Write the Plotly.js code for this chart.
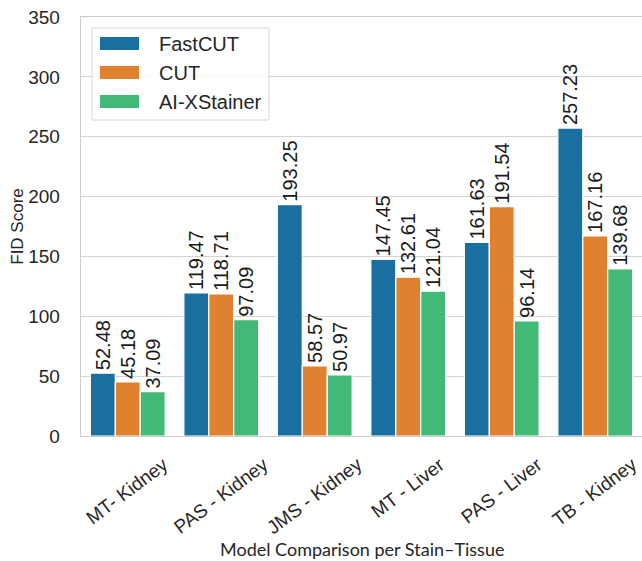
<!DOCTYPE html>
<html>
<head>
<meta charset="utf-8">
<script src="https://cdn.plot.ly/plotly-3.0.1.min.js"></script>
<style>html,body{margin:0;padding:0;background:#fff;}#chart{width:642px;height:561px;}</style>
</head>
<body>
<div id="chart"></div>
<script>
const categories = ["MT- Kidney", "PAS - Kidney", "JMS - Kidney", "MT - Liver", "PAS - Liver", "TB - Kidney"];
const seriesNames = ["FastCUT", "CUT", "AI-XStainer"];
const fastcut = [52.48, 119.47, 193.25, 147.45, 161.63, 257.23];
const cut = [45.18, 118.71, 58.57, 132.61, 191.54, 167.16];
const aixstainer = [37.09, 97.09, 50.97, 121.04, 96.14, 139.68];
const yTicks = [0, 50, 100, 150, 200, 250, 300, 350];
const colors = ["#1a6fa1", "#e08031", "#43b978"];
const seriesValues = [fastcut, cut, aixstainer];

const FONT = "Liberation Sans, Arial, sans-serif";

const traces = seriesValues.map((vals, i) => ({
  type: "bar",
  name: seriesNames[i],
  x: categories,
  y: vals,
  marker: { color: colors[i], line: { color: "#ffffff", width: 1.2 } },
  text: vals.map(v => v.toFixed(2)),
  textposition: "outside",
  textangle: -90,
  constraintext: "none",
  cliponaxis: false,
  textfont: { family: FONT, size: 20, color: "#1a1a1a" },
  showlegend: false,
  hoverinfo: "x+y"
}));

// plot area in pixels: x 81..642, y 17..436
const L = 81, R = 642, T = 17, B = 436;
const px = v => (v - L) / (R - L);
const py = v => (B - v) / (B - T);

const shapes = [{
  type: "rect", xref: "paper", yref: "paper",
  x0: px(92), x1: px(269), y0: py(120), y1: py(28),
  fillcolor: "rgba(255,255,255,0.8)", line: { color: "#d8d8d8", width: 1 }, layer: "above"
}];
const annotations = [];
const rowY = [43.5, 72.5, 101.5];
seriesNames.forEach((n, i) => {
  shapes.push({
    type: "rect", xref: "paper", yref: "paper",
    x0: px(100), x1: px(139), y0: py(rowY[i] + 6.5), y1: py(rowY[i] - 6.5),
    fillcolor: colors[i], line: { width: 0 }, layer: "above"
  });
  annotations.push({
    xref: "paper", yref: "paper", x: px(157), y: py(rowY[i]),
    xanchor: "left", yanchor: "middle", showarrow: false, text: n,
    font: { family: FONT, size: 20, color: "#262626" }
  });
});

// category tick labels, centred under each category (rotated)
categories.forEach(c => {
  annotations.push({
    xref: "x", yref: "paper", x: c, y: py(452),
    xanchor: "center", yanchor: "top", showarrow: false, text: c,
    textangle: -37, borderpad: 0,
    font: { family: FONT, size: 19, color: "#262626" }
  });
});
// x axis title
annotations.push({
  xref: "paper", yref: "paper", x: 0.5, y: py(549),
  xanchor: "center", yanchor: "middle", showarrow: false,
  text: "Model Comparison per Stain\u2013Tissue",
  font: { family: "Lato, Carlito, sans-serif", size: 18, color: "#262626" }
});

const layout = {
  width: 642, height: 561,
  margin: { l: L, r: 642 - R, t: T, b: 561 - B, pad: 0 },
  paper_bgcolor: "#ffffff", plot_bgcolor: "#ffffff",
  barmode: "group", bargap: 0.2, bargroupgap: 0,
  font: { family: FONT, color: "#262626" },
  xaxis: {
    type: "category", range: [-0.5, 5.5], showticklabels: false,
    showgrid: false, showline: true, mirror: true, linecolor: "#cccccc", linewidth: 1.3,
    ticks: ""
  },
  yaxis: {
    range: [0, 350], tickvals: yTicks, ticktext: yTicks.map(String),
    tickfont: { family: FONT, size: 19, color: "#262626" },
    showgrid: true, gridcolor: "#d4d4d4", gridwidth: 1.2, zeroline: false,
    showline: true, mirror: true, linecolor: "#cccccc", linewidth: 1.3,
    ticks: "", ticklabelstandoff: 16,
    title: { text: "FID Score", font: { family: FONT, size: 17, color: "#262626" }, standoff: 0 }
  },
  shapes: shapes,
  annotations: annotations
};

Plotly.newPlot("chart", traces, layout, { displayModeBar: false, staticPlot: true });
</script>
</body>
</html>
